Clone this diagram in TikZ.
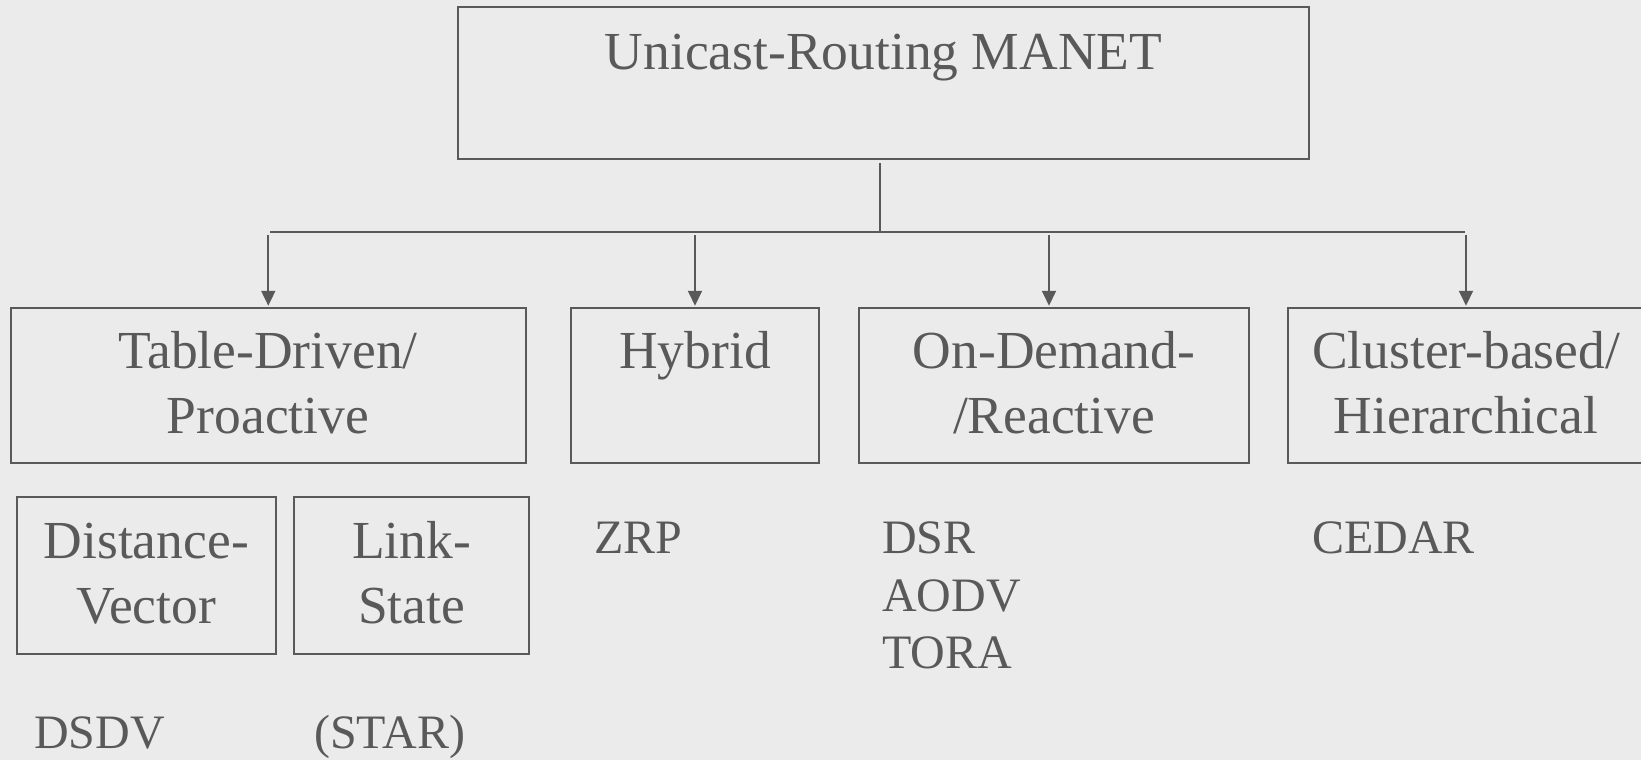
\documentclass[tikz,border=0pt]{standalone}
\usepackage{fontspec}
\setmainfont{Liberation Serif}
\usetikzlibrary{arrows.meta}
\definecolor{bg}{HTML}{EBEBEB}
\definecolor{fg}{HTML}{595959}
\begin{document}
\begin{tikzpicture}[x=1pt,y=-1pt,
  box/.style={draw=fg, line width=2pt, rectangle, inner sep=0pt},
  big/.style={text=fg, inner sep=0pt, anchor=base, font=\fontsize{53.5}{65}\selectfont},
  small/.style={text=fg, inner sep=0pt, anchor=base west, font=\fontsize{48}{57}\selectfont},
  ln/.style={draw=fg, line width=1.9pt},
  arr/.style={ln, -{Triangle[length=15pt,width=14pt]}}]
\fill[bg] (0,0) rectangle (1641,760);
\useasboundingbox (0,0) rectangle (1641,760);

% boxes
\node[box, minimum width=851pt, minimum height=152pt] (top) at (883.3,83.2) {};
\node[box, minimum width=514.6pt, minimum height=155.3pt] (td) at (268.3,385.4) {};
\node[box, minimum width=248pt, minimum height=155.3pt] (hy) at (695,385.4) {};
\node[box, minimum width=390pt, minimum height=155.3pt] (od) at (1054,385.4) {};
\node[box, minimum width=356.8pt, minimum height=155.3pt] (cb) at (1466,385.4) {};
\node[box, minimum width=258.6pt, minimum height=157.3pt] (dv) at (146.3,575.3) {};
\node[box, minimum width=235pt, minimum height=157.3pt] (ls) at (411.5,575.3) {};

% box texts
\node[big] (topt) at (883.5,70) {Unicast-Routing MANET};
\node[big] (td1) at (268,368) {Table-Driven/};
\node[big] (td2) at (268,433) {Proactive};
\node[big] (hy1) at (695,368) {Hybrid};
\node[big] (od1) at (1054,368) {On-Demand-};
\node[big] (od2) at (1054,433) {/Reactive};
\node[big] (cb1) at (1466,368) {Cluster-based/};
\node[big] (cb2) at (1466,433) {Hierarchical};
\node[big] (dv1) at (146.3,558) {Distance-};
\node[big] (dv2) at (146.3,623) {Vector};
\node[big] (ls1) at (411.5,558) {Link-};
\node[big] (ls2) at (411.5,623) {State};

% lists
\node[small] (zrp) at (594,553) {ZRP};
\node[small] (dsr) at (882,553) {DSR};
\node[small] (aodv) at (882,611.7) {AODV};
\node[small] (tora) at (882,668) {TORA};
\node[small] (cedar) at (1312,553) {CEDAR};
\node[small] (dsdv) at (34,748) {DSDV};
\node[small] (star) at (314,748) {(STAR)};

% connectors
\coordinate (stem) at (880,231.7);
\coordinate (busL) at (270,231.7);
\coordinate (busR) at (1465,231.7);
\coordinate (odx) at (1049,0);
\draw[ln] ([yshift=-3pt]top.south -| stem) -- (stem);
\draw[ln] (busL) -- (busR);
\draw[arr] ([yshift=-3.5pt]busL -| td.north) -- ([yshift=1pt]td.north);
\draw[arr] ([yshift=-3.5pt]busL -| hy.north) -- ([yshift=1pt]hy.north);
\draw[arr] ([yshift=-3.5pt]busL -| odx) -- ([yshift=1pt]od.north -| odx);
\draw[arr] ([yshift=-3.5pt]busL -| cb.north) -- ([yshift=1pt]cb.north);
\end{tikzpicture}
\end{document}
